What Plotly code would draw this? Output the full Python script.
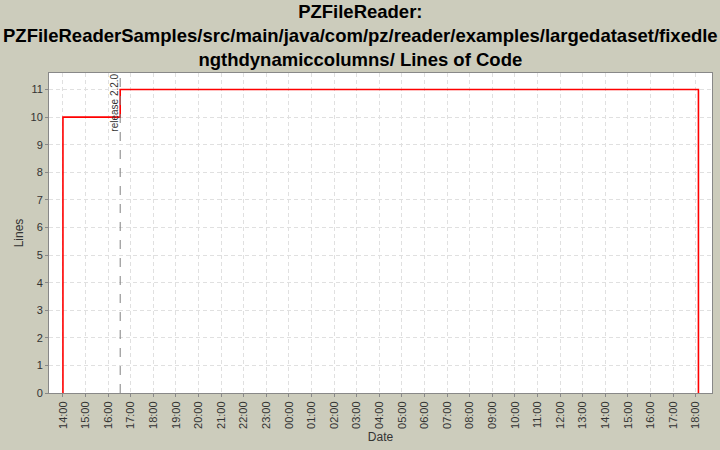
import plotly.graph_objects as go

# data
times = ["2007-01-15 14:00", "2007-01-15 14:00", "2007-01-15 16:32", "2007-01-16 18:07", "2007-01-16 18:07"]
lines = [0, 10, 11, 11, 0]
release_time = "2007-01-15 16:32"
release_label = "release 2.2.0"
x_range = ["2007-01-15 13:23", "2007-01-16 18:43"]
y_range = [0, 11.6]
title_text = ("PZFileReader:<br>PZFileReaderSamples/src/main/java/com/pz/reader/examples/largedataset/fixedle"
              "<br>ngthdynamiccolumns/ Lines of Code")

bg = "#CCCCBC"
font = "Liberation Sans, Arial, sans-serif"

fig = go.Figure()
fig.add_trace(go.Scatter(x=times, y=lines, mode="lines", line_shape="hv",
                         line=dict(color="#FF0000", width=1.6), showlegend=False,
                         hoverinfo="skip"))

fig.add_shape(type="line", x0=release_time, x1=release_time, y0=0, y1=1,
              xref="x", yref="y domain", line=dict(color="#808080", width=1, dash="dash"))
fig.add_annotation(x=release_time, y=1, xref="x", yref="y domain", text=release_label,
                   textangle=-90, showarrow=False, xanchor="right", yanchor="top",
                   xshift=1, yshift=1, font=dict(family=font, size=10, color="#333333"))

fig.add_annotation(x=(360 - 49) / 663, y=1.0, xref="paper", yref="paper", text=title_text,
                   showarrow=False, xanchor="center", yanchor="top", yshift=74,
                   font=dict(family=font, size=18.5, color="black", weight="bold"))

fig.update_layout(
    width=720, height=450,
    paper_bgcolor=bg, plot_bgcolor="white",
    margin=dict(l=49, r=8, t=73, b=57),
    font=dict(family=font, color="#333333"),
)
fig.update_xaxes(range=x_range, type="date", dtick=3600000, tickformat="%H:%M",
                 tickangle=-90, tickfont=dict(size=11, color="#333333"),
                 showgrid=True, gridcolor="#E0E0E0", griddash="4px,3px", gridwidth=1,
                 showline=True, linecolor="#888888", mirror=True,
                 ticks="outside", ticklen=3, tickcolor="#888888", automargin=False,
                 title=dict(text="Date", font=dict(size=12, color="#333333"), standoff=4),
                 zeroline=False)
fig.update_yaxes(range=y_range, dtick=1, tickfont=dict(size=11, color="#333333"),
                 showgrid=True, gridcolor="#E0E0E0", griddash="4px,3px", gridwidth=1,
                 showline=True, linecolor="#888888", mirror=True,
                 ticks="outside", ticklen=3, tickcolor="#888888", automargin=False,
                 title=dict(text="Lines", font=dict(size=12, color="#333333"), standoff=4),
                 zeroline=False)

fig.write_html("out.html", config={"displayModeBar": False},
               post_script="document.body.style.margin='0';document.body.style.background='#CCCCBC';")
